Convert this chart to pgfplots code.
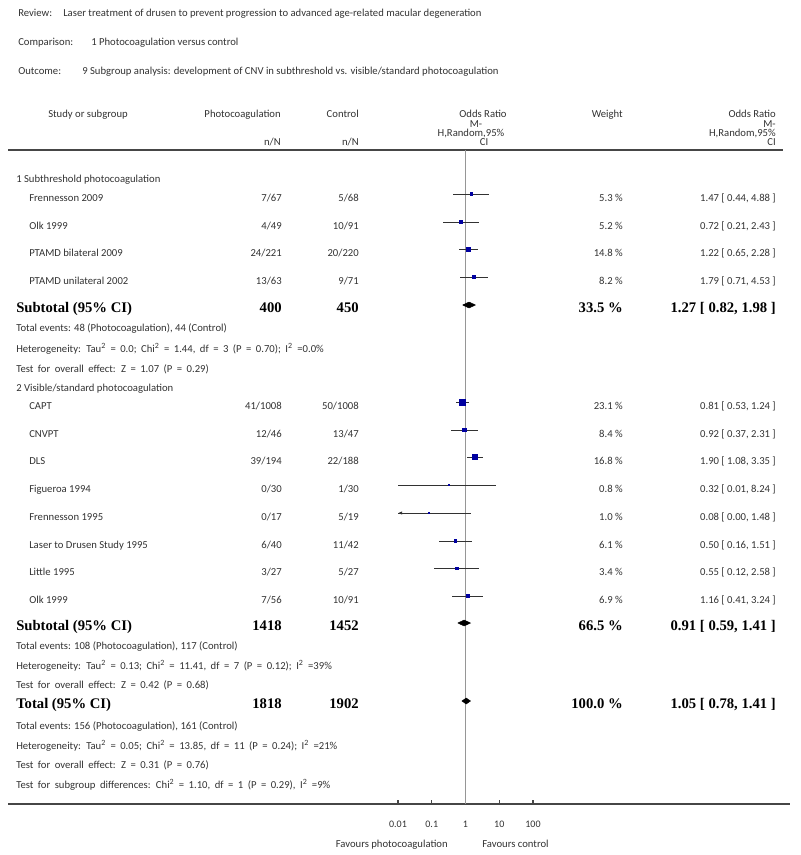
\documentclass[border=0pt]{standalone}
\usepackage{pgfplots}
\pgfplotsset{compat=1.18}
\usepackage{pgfplotstable}
\usetikzlibrary{arrows.meta}
\usepackage{fontspec}
\setmainfont{Carlito}
\newfontfamily\tms{Liberation Serif}

\definecolor{txt}{RGB}{50,50,50}
\definecolor{sq}{RGB}{0,0,160}
\definecolor{rule}{RGB}{70,70,70}
\definecolor{vline}{RGB}{150,150,150}

% rows are placed by pixel row (y), odds ratio with 95% CI, weight in %
\pgfplotstableread{
y     or    lo    hi    w
194   1.47  0.44  4.88  5.3
222   0.72  0.21  2.43  5.2
249.5 1.22  0.65  2.28  14.8
277   1.79  0.71  4.53  8.2
402   0.81  0.53  1.24  23.1
430   0.92  0.37  2.31  8.4
457   1.90  1.08  3.35  16.8
485   0.32  0.01  8.24  0.8
513   0.08  0.01  1.48  1.0
541   0.50  0.16  1.51  6.1
568   0.55  0.12  2.58  3.4
596   1.16  0.41  3.24  6.9
}\studies
% note: Frennesson 1995 lower limit (0.00) is cut at the axis limit 0.01

\tikzset{
  t/.style={font=\fontsize{8}{9.5}\selectfont, text=txt, inner sep=0pt},
  b/.style={font=\tms\bfseries\fontsize{11}{12}\selectfont, text=black, inner sep=0pt},
}
\newcommand\srow[6]{%
  \node[t, anchor=base west] at (29,{#1+7.5}) {#2};
  \node[t, anchor=base east] at (282,{#1+7.5}) {#3};
  \node[t, anchor=base east] at (359,{#1+7.5}) {#4};
  \node[t, anchor=base east] at (623,{#1+7.5}) {#5};
  \node[t, anchor=base east] at (776,{#1+7.5}) {#6};}
\newcommand\brow[6]{%
  \node[b, anchor=base west] at (16,{#1+7}) {#2};
  \node[b, anchor=base east] at (282,{#1+7}) {#3};
  \node[b, anchor=base east] at (359,{#1+7}) {#4};
  \node[b, anchor=base east] at (623,{#1+7}) {#5};
  \node[b, anchor=base east] at (776,{#1+7}) {#6};}
\newcommand\trow[2]{\node[t, anchor=base west] at (16,#1) {#2};}
% statistics lines: wider word spaces, as in the original
\newcommand\wrow[2]{\node[t, anchor=base west] at (16,#1) {\spaceskip=0.42em #2};}
\newcommand\sq{\textsuperscript{2}}

\begin{document}
\begin{tikzpicture}[x=0.75pt, y=-0.75pt]
\path[use as bounding box] (0,0) rectangle (800,855);

% top text
\node[t, anchor=base west] at (18,17) {Review:};
\node[t, anchor=base west] at (63,17) {Laser treatment of drusen to prevent progression to advanced age-related macular degeneration};
\node[t, anchor=base west] at (18,46) {Comparison:};
\node[t, anchor=base west] at (91,46) {1 Photocoagulation versus control};
\node[t, anchor=base west] at (18,75) {Outcome:};
\node[t, anchor=base west] at (82,75) {9 Subgroup analysis: development of CNV in subthreshold vs. visible/standard photocoagulation};

% column headers
\node[t, anchor=base] at (88,118) {Study or subgroup};
\node[t, anchor=base east] at (281,118) {Photocoagulation};
\node[t, anchor=base east] at (359,118) {Control};
\node[t, anchor=base east] at (281,146) {n/N};
\node[t, anchor=base east] at (359,146) {n/N};
\node[t, anchor=base] at (483,118) {Odds Ratio};
\node[t, anchor=base] at (476,128) {M-};
\node[t, anchor=base] at (471,137) {H,Random,95\%};
\node[t, anchor=base] at (484,146) {CI};
\node[t, anchor=base east] at (623,118) {Weight};
\node[t, anchor=base east] at (776,118) {Odds Ratio};
\node[t, anchor=base east] at (776,128) {M-};
\node[t, anchor=base east] at (776,137) {H,Random,95\%};
\node[t, anchor=base east] at (776,146) {CI};

\draw[rule, line width=1.5pt] (8,150) -- (783,150);
\draw[rule, line width=1.3pt] (8,804) -- (790,804);

% forest plot
\coordinate (sw) at (398,804);
\begin{axis}[
  at={(sw)}, anchor=south west,
  scale only axis, width=101.25pt, height=490.5pt,
  xmode=log, xmin=0.01, xmax=100,
  ymin=150, ymax=804, y dir=reverse,
  hide y axis, axis x line*=bottom, x axis line style={draw=none},
  xtick={0.01,0.1,1,10,100}, xticklabels={0.01,0.1,1,10,100},
  xminorticks=false, tick align=inside, major tick length=3pt,
  xtick style={draw=rule, line width=0.9pt},
  xticklabel style={anchor=base, yshift=-17.25pt, font=\fontsize{7.5}{8.5}\selectfont, text=txt, inner sep=0pt},
  /pgf/number format/assume math mode=true,
  clip=false,
]
\draw[vline, line width=0.6pt] (axis cs:1,150) -- (axis cs:1,804);

% confidence intervals
\addplot[draw=none, mark=none, forget plot,
  error bars/.cd, x dir=both, x explicit, error mark=none,
  error bar style={line width=0.6pt, draw=txt}]
  table[x=or, y=y, x error plus expr={\thisrow{hi}-\thisrow{or}}, x error minus expr={\thisrow{or}-\thisrow{lo}}] {\studies};
\addplot[-{Latex[length=3pt,width=2.5pt]}, draw=txt, line width=0.6pt, forget plot] coordinates {(0.03,513) (0.01,513)};

% study squares, area ~ weight
\addplot[only marks, mark=square*, mark options={draw=sq, fill=sq},
  scatter, scatter/use mapped color={draw=sq, fill=sq},
  visualization depends on={0.43*sqrt(\thisrow{w}) \as \msz},
  scatter/@pre marker code/.append style={/tikz/mark size=\msz pt}]
  table[x=or, y=y] {\studies};

% pooled diamonds
\addplot[fill=black, draw=black, line width=0.3pt] coordinates {(0.82,305) (1.27,302) (1.98,305) (1.27,308) (0.82,305)};
\addplot[fill=black, draw=black, line width=0.3pt] coordinates {(0.59,623) (0.91,620) (1.41,623) (0.91,626) (0.59,623)};
\addplot[fill=black, draw=black, line width=0.3pt] coordinates {(0.78,701) (1.05,698) (1.41,701) (1.05,704) (0.78,701)};
\end{axis}

\node[t, anchor=base east] at (448,847) {Favours photocoagulation};
\node[t, anchor=base west] at (482,847) {Favours control};

% table rows
\trow{183}{1 Subthreshold photocoagulation}
\srow{194}{Frennesson 2009}{7/67}{5/68}{5.3 \%}{1.47 [ 0.44, 4.88 ]}
\srow{222}{Olk 1999}{4/49}{10/91}{5.2 \%}{0.72 [ 0.21, 2.43 ]}
\srow{249.5}{PTAMD bilateral 2009}{24/221}{20/220}{14.8 \%}{1.22 [ 0.65, 2.28 ]}
\srow{277}{PTAMD unilateral 2002}{13/63}{9/71}{8.2 \%}{1.79 [ 0.71, 4.53 ]}
\brow{305}{Subtotal (95\% CI)}{400}{450}{33.5 \%}{1.27 [ 0.82, 1.98 ]}
\trow{331}{Total events: 48 (Photocoagulation), 44 (Control)}
\wrow{352}{Heterogeneity: Tau\sq{} = 0.0; Chi\sq{} = 1.44, df = 3 (P = 0.70); I\sq{} =0.0\%}
\wrow{372}{Test for overall effect: Z = 1.07 (P = 0.29)}
\trow{391}{2 Visible/standard photocoagulation}
\srow{402}{CAPT}{41/1008}{50/1008}{23.1 \%}{0.81 [ 0.53, 1.24 ]}
\srow{430}{CNVPT}{12/46}{13/47}{8.4 \%}{0.92 [ 0.37, 2.31 ]}
\srow{457}{DLS}{39/194}{22/188}{16.8 \%}{1.90 [ 1.08, 3.35 ]}
\srow{485}{Figueroa 1994}{0/30}{1/30}{0.8 \%}{0.32 [ 0.01, 8.24 ]}
\srow{513}{Frennesson 1995}{0/17}{5/19}{1.0 \%}{0.08 [ 0.00, 1.48 ]}
\srow{541}{Laser to Drusen Study 1995}{6/40}{11/42}{6.1 \%}{0.50 [ 0.16, 1.51 ]}
\srow{568}{Little 1995}{3/27}{5/27}{3.4 \%}{0.55 [ 0.12, 2.58 ]}
\srow{596}{Olk 1999}{7/56}{10/91}{6.9 \%}{1.16 [ 0.41, 3.24 ]}
\brow{623}{Subtotal (95\% CI)}{1418}{1452}{66.5 \%}{0.91 [ 0.59, 1.41 ]}
\trow{649.5}{Total events: 108 (Photocoagulation), 117 (Control)}
\wrow{669}{Heterogeneity: Tau\sq{} = 0.13; Chi\sq{} = 11.41, df = 7 (P = 0.12); I\sq{} =39\%}
\wrow{688.5}{Test for overall effect: Z = 0.42 (P = 0.68)}
\brow{701}{Total (95\% CI)}{1818}{1902}{100.0 \%}{1.05 [ 0.78, 1.41 ]}
\trow{729}{Total events: 156 (Photocoagulation), 161 (Control)}
\wrow{749}{Heterogeneity: Tau\sq{} = 0.05; Chi\sq{} = 13.85, df = 11 (P = 0.24); I\sq{} =21\%}
\wrow{768}{Test for overall effect: Z = 0.31 (P = 0.76)}
\wrow{788}{Test for subgroup differences: Chi\sq{} = 1.10, df = 1 (P = 0.29), I\sq{} =9\%}
\end{tikzpicture}
\end{document}
